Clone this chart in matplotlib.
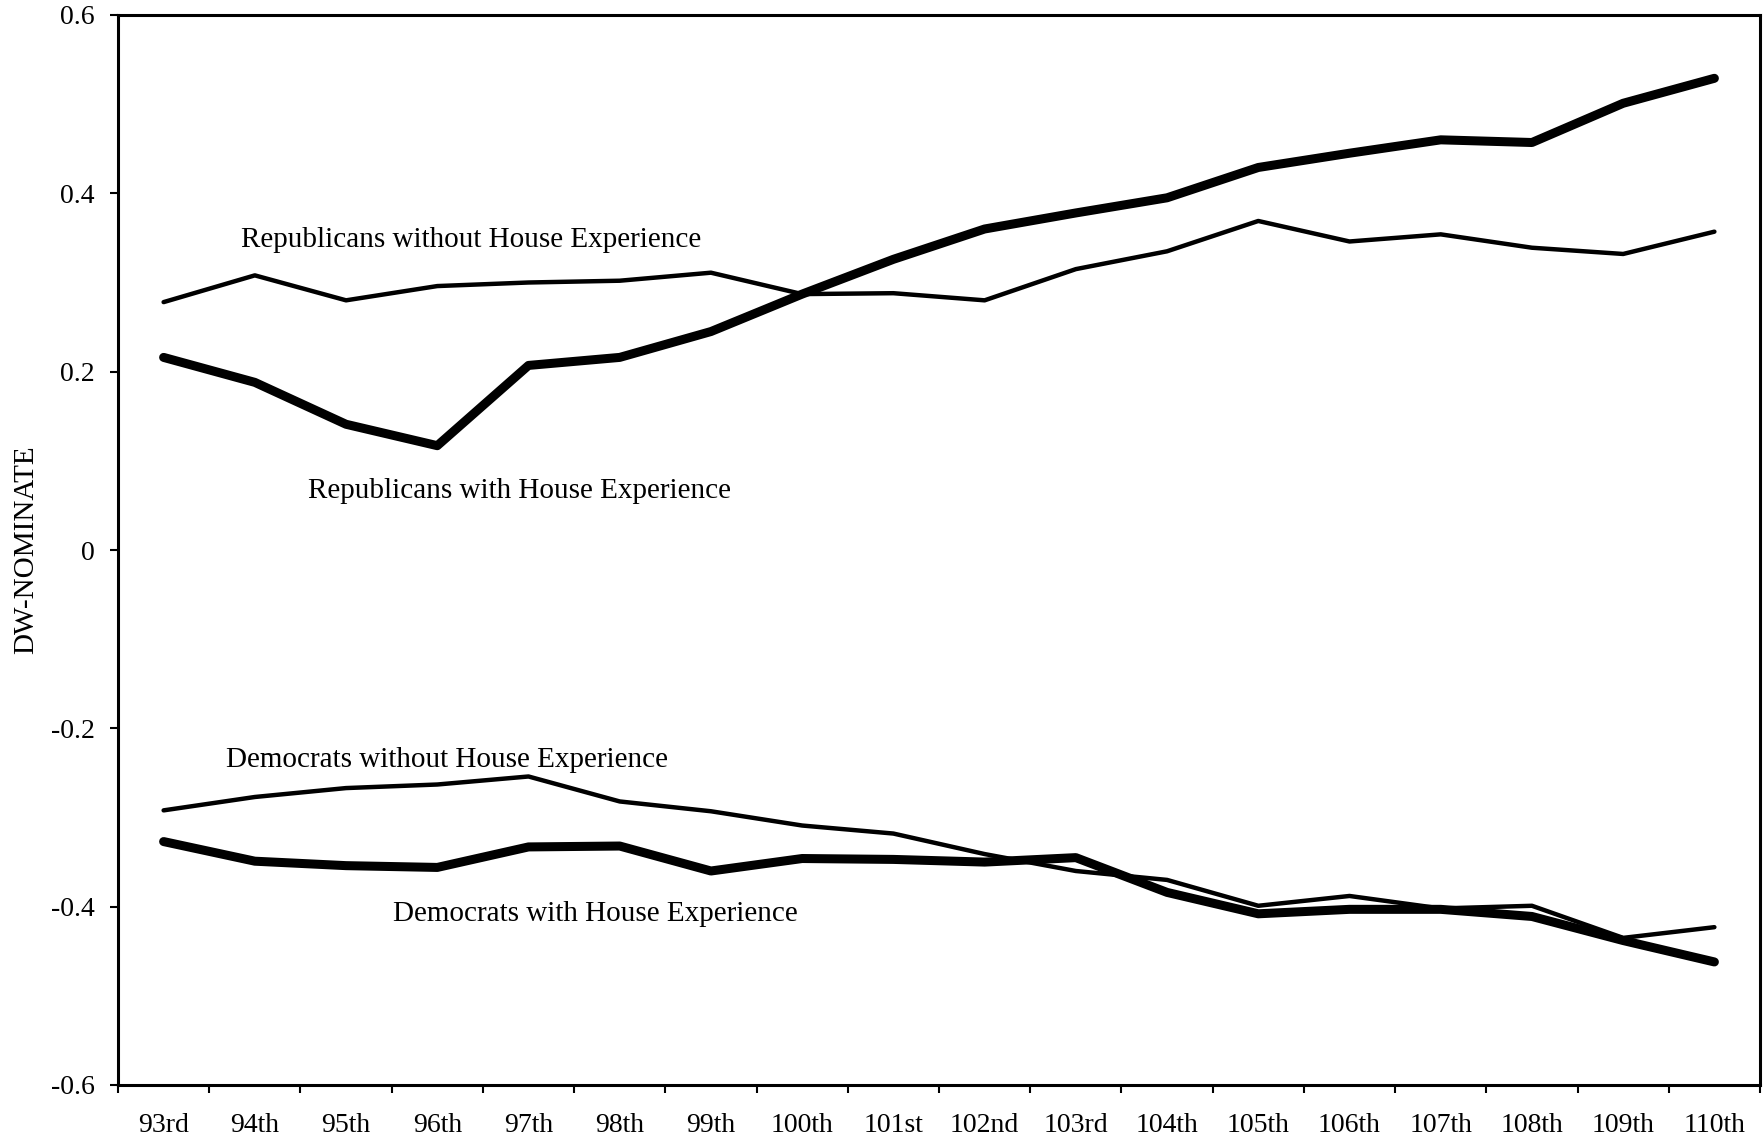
import matplotlib.pyplot as plt
from matplotlib.ticker import FixedLocator, NullFormatter

plt.rcParams['font.family'] = ['Liberation Serif', 'DejaVu Serif']
plt.rcParams.update({'font.size': 20})

# congress labels
congresses = ['93rd', '94th', '95th', '96th', '97th', '98th', '99th', '100th', '101st',
              '102nd', '103rd', '104th', '105th', '106th', '107th', '108th', '109th', '110th']

# mean DW-NOMINATE scores
rep_without = [0.278, 0.308, 0.280, 0.296, 0.300, 0.302, 0.311, 0.287, 0.288,
               0.280, 0.315, 0.335, 0.369, 0.346, 0.354, 0.339, 0.332, 0.357]
rep_with = [0.216, 0.188, 0.141, 0.117, 0.207, 0.216, 0.245, 0.287, 0.326,
            0.360, 0.378, 0.395, 0.429, 0.445, 0.460, 0.457, 0.501, 0.529]
dem_without = [-0.292, -0.277, -0.267, -0.263, -0.254, -0.282, -0.293, -0.309, -0.318,
               -0.341, -0.360, -0.370, -0.399, -0.388, -0.402, -0.399, -0.435, -0.423]
dem_with = [-0.327, -0.349, -0.354, -0.356, -0.333, -0.332, -0.360, -0.346, -0.347,
            -0.350, -0.345, -0.384, -0.408, -0.403, -0.403, -0.411, -0.438, -0.462]

x = list(range(len(congresses)))

fig = plt.figure(figsize=(17.65, 11.42), dpi=100)
ax = fig.add_axes([118 / 1765, 1 - 1085 / 1142, (1760 - 118) / 1765, (1085 - 15) / 1142])

ax.plot(x, rep_without, color='black', linewidth=3.2, solid_capstyle='round')
ax.plot(x, rep_with, color='black', linewidth=6.5, solid_capstyle='round')
ax.plot(x, dem_without, color='black', linewidth=3.2, solid_capstyle='round')
ax.plot(x, dem_with, color='black', linewidth=6.5, solid_capstyle='round')

# labels on the lines
ax.text(3.37, 0.348, 'Republicans without House Experience', ha='center', va='center', fontsize=21)
ax.text(3.90, 0.066, 'Republicans with House Experience', ha='center', va='center', fontsize=21)
ax.text(3.11, -0.235, 'Democrats without House Experience', ha='center', va='center', fontsize=21)
ax.text(4.73, -0.408, 'Democrats with House Experience', ha='center', va='center', fontsize=21)

ax.set_xlim(-0.5, len(congresses) - 0.5)
ax.set_ylim(-0.6, 0.6)
ax.set_yticks([-0.6, -0.4, -0.2, 0, 0.2, 0.4, 0.6])
ax.set_yticklabels(['-0.6', '-0.4', '-0.2', '0', '0.2', '0.4', '0.6'])
ax.set_xticks(x)
ax.set_xticklabels(congresses)
ax.xaxis.set_minor_locator(FixedLocator([i - 0.5 for i in range(len(congresses) + 1)]))
ax.xaxis.set_minor_formatter(NullFormatter())
ax.tick_params(axis='x', which='major', length=0, pad=20)
ax.tick_params(axis='x', which='minor', length=6, width=1.5, direction='out')
ax.tick_params(axis='y', length=6, width=1.5, direction='out', pad=11)

ax.set_ylabel('DW-NOMINATE', fontsize=21, labelpad=8)

for s in ax.spines.values():
    s.set_linewidth(2.2)

fig.savefig('out.png', dpi=100)
